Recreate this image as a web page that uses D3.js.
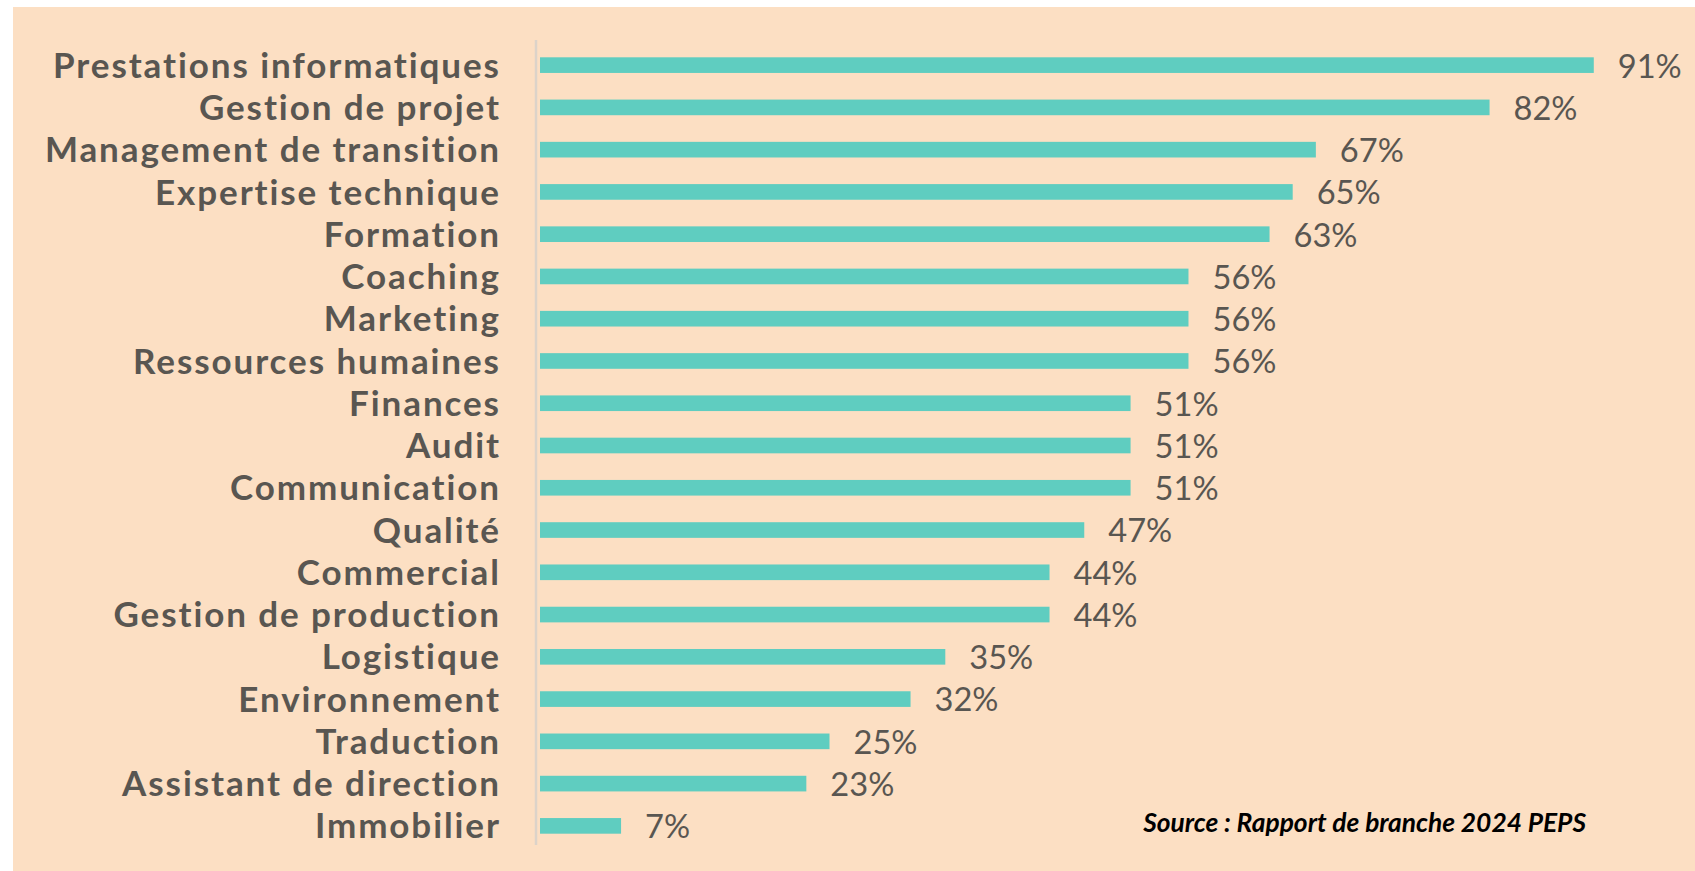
<!DOCTYPE html>
<html>
<head>
<meta charset="utf-8">
<script src="https://cdn.jsdelivr.net/npm/d3@7"></script>
<style>
  html, body { margin: 0; padding: 0; background: #ffffff; }
  svg { display: block; }
  text { font-variant-ligatures: none; font-feature-settings: "liga" 0; }
</style>
</head>
<body>
<svg id="chart" width="1695" height="871"></svg>
<script>
const categories = [
  "Prestations informatiques", "Gestion de projet", "Management de transition",
  "Expertise technique", "Formation", "Coaching", "Marketing",
  "Ressources humaines", "Finances", "Audit", "Communication", "Qualité",
  "Commercial", "Gestion de production", "Logistique", "Environnement",
  "Traduction", "Assistant de direction", "Immobilier"
];
const values = [91, 82, 67, 65, 63, 56, 56, 56, 51, 51, 51, 47, 44, 44, 35, 32, 25, 23, 7];
const sourceText = "Source : Rapport de branche 2024 PEPS";

const W = 1695, H = 871;
const svg = d3.select("#chart");

// background panel (white margin top/left)
svg.append("rect").attr("x", 0).attr("y", 0).attr("width", W).attr("height", H).attr("fill", "#ffffff");
svg.append("rect").attr("x", 13).attr("y", 7).attr("width", W - 13).attr("height", H - 7).attr("fill", "#fcdfc3");

const x0 = 540;
const x = d3.scaleLinear().domain([0, 100]).range([x0, x0 + 1158]);
const y = d3.scaleBand().domain(categories).range([44, 847]).paddingInner(0.63).paddingOuter(0.315);

// axis line
svg.append("line")
  .attr("x1", 536).attr("x2", 536).attr("y1", 40).attr("y2", 845)
  .attr("stroke", "#dcd3c9").attr("stroke-width", 2.5);

// bars
svg.append("g").selectAll("rect").data(categories).join("rect")
  .attr("x", x(0))
  .attr("y", d => y(d))
  .attr("width", (d, i) => x(values[i]) - x(0))
  .attr("height", y.bandwidth())
  .attr("fill", "#5fcdc0");

const FONT = "Lato, 'Open Sans', sans-serif";

// measure helper
function measure(sel, text, size, ls) {
  const t = sel.append("text").attr("font-size", size).attr("letter-spacing", ls).text(text);
  const w = t.node().getComputedTextLength();
  t.remove();
  return w;
}

// category labels
const catG = svg.append("g")
  .attr("font-family", FONT)
  .attr("font-weight", 700)
  .attr("fill", "#595651");
const catSize = 35;
const refLabel = "Management de transition";
const w0 = measure(catG, refLabel, catSize, 0);
const catLS = Math.max(0, (456 - w0) / refLabel.length);
catG.attr("font-size", catSize).attr("letter-spacing", catLS);
catG.selectAll("text").data(categories).join("text")
  .attr("x", 499 + catLS)
  .attr("y", d => y(d) + y.bandwidth() / 2)
  .attr("dy", "0.36em")
  .attr("text-anchor", "end")
  .text(d => d);

// value labels
const valG = svg.append("g")
  .attr("font-family", FONT)
  .attr("font-weight", 400)
  .attr("fill", "#595651");
const vw = measure(valG, "91%", 30, 0);
const valSize = Math.min(34, 30 * 64 / vw);
valG.attr("font-size", valSize);
valG.selectAll("text").data(categories).join("text")
  .attr("x", (d, i) => x(values[i]) + 24)
  .attr("y", d => y(d) + y.bandwidth() / 2)
  .attr("dy", "0.38em")
  .text((d, i) => values[i] + "%");

// source
const srcG = svg.append("g")
  .attr("font-family", FONT)
  .attr("font-weight", 700)
  .attr("font-style", "italic")
  .attr("fill", "#000000");
const sw = measure(srcG, sourceText, 22, 0);
const srcSize = 22 * 443 / sw;
srcG.append("text")
  .attr("x", 1586).attr("y", 832)
  .attr("text-anchor", "end")
  .attr("font-size", srcSize)
  .text(sourceText);
</script>
</body>
</html>
